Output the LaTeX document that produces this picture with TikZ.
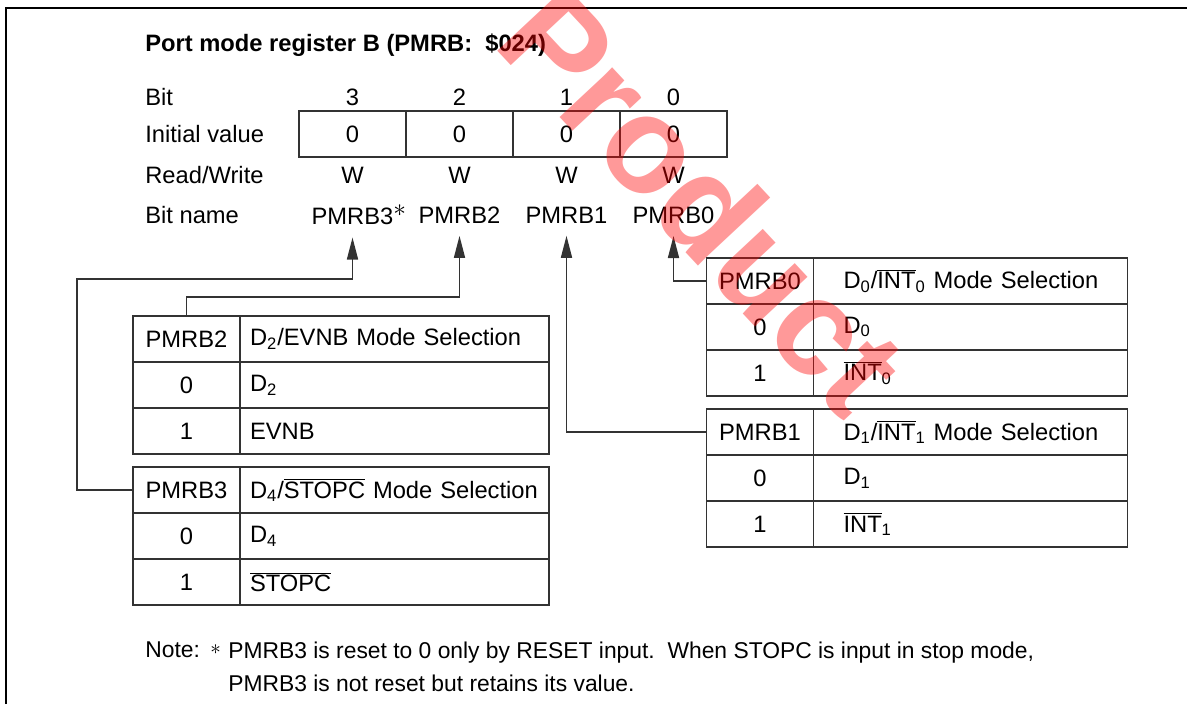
\documentclass[tikz,border=0pt]{standalone}
\usepackage{fontspec}
\setmainfont{Liberation Sans}
\usetikzlibrary{arrows.meta}

\newcommand{\regfont}{\fontsize{13.5}{16}\selectfont}
\newcommand{\notefont}{\fontsize{13}{18.7}\selectfont}
\newcommand{\ovl}[1]{$\overline{\mbox{#1}}$}

\tikzset{
  lbl/.style={font=\regfont, anchor=west, inner sep=0pt},
  bitcell/.style={draw=black!80, line width=0.8pt, font=\regfont,
    minimum width=2.14cm, minimum height=0.92cm, inner sep=0pt, outer sep=0pt},
  keycell/.style={bitcell},
  valcell/.style={draw=black!80, line width=0.8pt, font=\regfont, align=left,
    minimum height=0.92cm, inner sep=0pt, outer sep=0pt},
  lvalcell/.style={valcell, text width=6.18cm, execute at begin node={\hspace*{0.2cm}}},
  rvalcell/.style={valcell, text width=6.28cm, execute at begin node={\hspace*{0.6cm}}},
  toname/.style={draw=black!80, line width=0.8pt, -{Triangle[length=12.5pt, width=6.3pt]}},
}

\begin{document}
\begin{tikzpicture}[x=0.02cm, y=-0.02cm]
  \useasboundingbox (0,0) rectangle (1187,704);
  \draw[line width=1.1pt] (6,704) -- (6,8) -- (1187,8);

  \node[lbl, font=\regfont\bfseries] (title) at (145,45) {Port mode register B (PMRB:\ \ \$024)};
  \node[lbl] (bit) at (145,97) {Bit};
  \node[lbl] (init) at (145,134) {Initial value};
  \node[lbl] (rw) at (145,175) {Read/Write};
  \node[lbl] (name) at (145,215) {Bit name};

  \foreach \b/\x in {3/352.5, 2/459.5, 1/566.5, 0/673.5} {
    \node[font=\regfont] (bit\b) at (\x,97) {\b};
    \node[bitcell] (iv\b) at (\x,134) {0};
    \node[font=\regfont] (rw\b) at (\x,175) {W};
    \node[font=\regfont, inner ysep=7pt] (nm\b) at (\x,215)
      {PMRB\b\ifnum\b=3\rlap{\raisebox{0.33em}{$\ast$}}\fi};
  }

  % PMRB2
  \node[keycell] (h2) at (186.5,339) {PMRB2};
  \node[lvalcell] (s2) at (394.5,339) {D\textsubscript{2}/EVNB Mode Selection};
  \node[keycell] (h2a) at (186.5,385) {0};
  \node[lvalcell] (s2a) at (394.5,385) {D\textsubscript{2}};
  \node[keycell] (h2b) at (186.5,431) {1};
  \node[lvalcell] (s2b) at (394.5,431) {EVNB};

  % PMRB3
  \node[keycell] (h3) at (186.5,490) {PMRB3};
  \node[lvalcell] (s3) at (394.5,490) {D\textsubscript{4}/\ovl{STOPC} Mode Selection};
  \node[keycell] (h3a) at (186.5,536) {0};
  \node[lvalcell] (s3a) at (394.5,536) {D\textsubscript{4}};
  \node[keycell] (h3b) at (186.5,582) {1};
  \node[lvalcell] (s3b) at (394.5,582) {\ovl{STOPC}};

  % PMRB0
  \node[keycell] (h0) at (760,281) {PMRB0};
  \node[rvalcell] (s0) at (970.5,281) {D\textsubscript{0}/\ovl{INT}\textsubscript{0} Mode Selection};
  \node[keycell] (h0a) at (760,327) {0};
  \node[rvalcell] (s0a) at (970.5,327) {D\textsubscript{0}};
  \node[keycell] (h0b) at (760,373) {1};
  \node[rvalcell] (s0b) at (970.5,373) {\ovl{INT}\textsubscript{0}};

  % PMRB1
  \node[keycell] (h1) at (760,432) {PMRB1};
  \node[rvalcell] (s1) at (970.5,432) {D\textsubscript{1}/\ovl{INT}\textsubscript{1} Mode Selection};
  \node[keycell] (h1a) at (760,478) {0};
  \node[rvalcell] (s1a) at (970.5,478) {D\textsubscript{1}};
  \node[keycell] (h1b) at (760,524) {1};
  \node[rvalcell] (s1b) at (970.5,524) {\ovl{INT}\textsubscript{1}};

  \draw[toname] (h3.west) -| (77,279) -| (nm3.south);
  \draw[toname] (h2.north) -- ++(0,-19) -| (nm2.south);
  \draw[toname] (h1.west) -| (nm1.south);
  \draw[toname] (h0.west) -| (nm0.south);

  \node[lbl, font=\notefont] (note) at (145,650) {Note:};
  \node[lbl, font=\notefont] (star) at (210,650) {$\ast$};
  \node[lbl, font=\notefont, align=left] (notetext) at (228,666.5)
    {PMRB3 is reset to 0 only by RESET input.\ \ When STOPC is input in stop mode,\\
     PMRB3 is not reset but retains its value.};

  \node[rotate=-47, text=red, text opacity=0.4, font=\fontsize{78}{78}\selectfont\bfseries] (mark) at (704,200) {Product};
\end{tikzpicture}
\end{document}
